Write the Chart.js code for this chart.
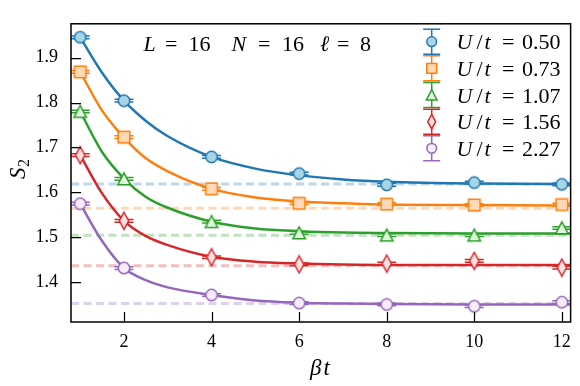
<!DOCTYPE html>
<html>
<head>
<meta charset="utf-8">
<script src="https://cdn.jsdelivr.net/npm/chart.js"></script>
<style>
  html, body { margin: 0; padding: 0; background: #fff; }
</style>
</head>
<body>
<canvas id="myChart" width="580" height="386"></canvas>
<script>
// beta*t values where S2 was measured
const betaT = [1, 2, 4, 6, 8, 10, 12];

// measured S2 for each U/t
const s2U050 = [1.945, 1.804, 1.679, 1.642, 1.617, 1.622, 1.618];
const s2U073 = [1.868, 1.723, 1.608, 1.576, 1.574, 1.572, 1.573];
const s2U107 = [1.780, 1.630, 1.535, 1.510, 1.505, 1.505, 1.521];
const s2U156 = [1.683, 1.537, 1.456, 1.440, 1.442, 1.448, 1.433];
const s2U227 = [1.575, 1.432, 1.372, 1.354, 1.351, 1.347, 1.356];

// error bars (very small)
const errU050 = [0.003, 0.003, 0.003, 0.003, 0.003, 0.003, 0.003];
const errU073 = [0.003, 0.003, 0.003, 0.003, 0.003, 0.003, 0.003];
const errU107 = [0.003, 0.003, 0.003, 0.003, 0.003, 0.003, 0.003];
const errU156 = [0.003, 0.003, 0.003, 0.003, 0.003, 0.003, 0.003];
const errU227 = [0.003, 0.003, 0.003, 0.003, 0.003, 0.003, 0.003];

// fitted curves
const fitBetaT = [1, 1.5, 2, 2.5, 3, 4, 5, 6, 7, 8, 10, 12, 12.2];
const fitU050 = [1.945, 1.866, 1.804, 1.759, 1.725, 1.679, 1.653, 1.638, 1.629, 1.624, 1.620, 1.619, 1.619];
const fitU073 = [1.868, 1.782, 1.722, 1.676, 1.647, 1.608, 1.589, 1.580, 1.576, 1.573, 1.572, 1.571, 1.571];
const fitU107 = [1.780, 1.690, 1.631, 1.590, 1.566, 1.535, 1.520, 1.514, 1.511, 1.510, 1.509, 1.509, 1.509];
const fitU156 = [1.683, 1.598, 1.537, 1.503, 1.483, 1.457, 1.446, 1.442, 1.440, 1.439, 1.439, 1.439, 1.439];
const fitU227 = [1.575, 1.492, 1.432, 1.405, 1.389, 1.372, 1.360, 1.355, 1.353, 1.352, 1.351, 1.351, 1.351];

// large beta reference values (dashed lines)
const refS2 = [1.619, 1.565, 1.505, 1.437, 1.353];

const uValues = ['0.50', '0.73', '1.07', '1.56', '2.27'];
const xTicks = [2, 4, 6, 8, 10, 12];
const yTicks = [1.4, 1.5, 1.6, 1.7, 1.8, 1.9];
const xRange = [0.79, 12.2];
const yRange = [1.312, 1.975];

const s2Data = [s2U050, s2U073, s2U107, s2U156, s2U227];
const errData = [errU050, errU073, errU107, errU156, errU227];
const fitData = [fitU050, fitU073, fitU107, fitU156, fitU227];

// styles
const edgeColors = ['#1f77b4', '#ff7f0e', '#2ca02c', '#d62728', '#9467bd'];
const faceColors = ['#a8d5e5', '#ffd9b8', '#e4f5df', '#fde0e0', '#f8ecf8'];
const dashColors = ['rgba(31,119,180,0.3)', 'rgba(255,127,14,0.3)', 'rgba(44,160,44,0.3)',
                    'rgba(214,39,40,0.3)', 'rgba(148,103,189,0.3)'];
const shapes = ['circle', 'square', 'triangle', 'thindiamond', 'circle'];
const SERIF = '"Liberation Serif", "DejaVu Serif", serif';

function markerPath(ctx, shape, cx, cy, s) {
    ctx.beginPath();
    if (shape === 'circle') {
        ctx.arc(cx, cy, 5.7 * s, 0, Math.PI * 2);
    } else if (shape === 'square') {
        ctx.rect(cx - 5.8 * s, cy - 5.8 * s, 11.6 * s, 11.6 * s);
    } else if (shape === 'triangle') {
        ctx.moveTo(cx, cy - 6.2 * s);
        ctx.lineTo(cx + 6.3 * s, cy + 5.8 * s);
        ctx.lineTo(cx - 6.3 * s, cy + 5.8 * s);
        ctx.closePath();
    } else {
        ctx.moveTo(cx, cy - 8.5 * s);
        ctx.lineTo(cx + 4.7 * s, cy);
        ctx.lineTo(cx, cy + 8.5 * s);
        ctx.lineTo(cx - 4.7 * s, cy);
        ctx.closePath();
    }
}

function makeMarker(shape, edge, face) {
    const c = document.createElement('canvas');
    c.width = 16; c.height = shape === 'thindiamond' ? 20 : 16;
    const g = c.getContext('2d');
    markerPath(g, shape, c.width / 2, c.height / 2, 1);
    g.fillStyle = face; g.fill();
    g.lineWidth = 1.5; g.strokeStyle = edge; g.stroke();
    return c;
}

const datasets = [];
// markers first so they end up on top
for (let k = 0; k < 5; k++) {
    datasets.push({
        label: 'U/t = ' + uValues[k],
        data: betaT.map((x, i) => ({ x: x, y: s2Data[k][i] })),
        errors: errData[k],
        showLine: false,
        borderColor: edgeColors[k],
        pointStyle: makeMarker(shapes[k], edgeColors[k], faceColors[k]),
        pointRadius: 7,
        pointHoverRadius: 7,
        order: k
    });
}
for (let k = 0; k < 5; k++) {
    datasets.push({
        label: 'fit ' + uValues[k],
        data: fitBetaT.map((x, i) => ({ x: x, y: fitData[k][i] })),
        showLine: true,
        borderColor: edgeColors[k],
        borderWidth: 2.5,
        pointRadius: 0,
        cubicInterpolationMode: 'monotone',
        clip: 0,
        order: 10 + k
    });
}
for (let k = 0; k < 5; k++) {
    datasets.push({
        label: 'ref ' + uValues[k],
        data: xRange.map(x => ({ x: x, y: refS2[k] })),
        showLine: true,
        borderColor: dashColors[k],
        borderWidth: 3,
        borderDash: [8, 4.5],
        pointRadius: 0,
        clip: 0,
        order: 20 + k
    });
}

// error bar caps, drawn just before each marker set
const errorBars = {
    id: 'errorBars',
    beforeDatasetDraw(chart, args) {
        const ds = chart.data.datasets[args.index];
        if (!ds.errors) return;
        const { ctx, chartArea: a, scales } = chart;
        ctx.save();
        ctx.beginPath();
        ctx.rect(a.left, a.top, a.width, a.height);
        ctx.clip();
        ctx.strokeStyle = ds.borderColor;
        ctx.lineWidth = 1.5;
        ds.data.forEach((p, i) => {
            const x = scales.x.getPixelForValue(p.x);
            const yt = scales.y.getPixelForValue(p.y + ds.errors[i]);
            const yb = scales.y.getPixelForValue(p.y - ds.errors[i]);
            ctx.beginPath();
            ctx.moveTo(x, yt); ctx.lineTo(x, yb);
            ctx.moveTo(x - 9.5, yt); ctx.lineTo(x + 9.5, yt);
            ctx.moveTo(x - 9.5, yb); ctx.lineTo(x + 9.5, yb);
            ctx.stroke();
        });
        ctx.restore();
    }
};

function drawTokens(ctx, tokens, y, size) {
    tokens.forEach(([text, italic, x]) => {
        ctx.font = (italic ? 'italic ' : '') + size + 'px ' + SERIF;
        ctx.fillText(text, x, y);
    });
}

// frame, inward ticks, titles, annotation and legend
const decor = {
    id: 'decor',
    beforeDraw(chart) {
        const ctx = chart.ctx;
        ctx.save();
        ctx.fillStyle = '#fff';
        ctx.fillRect(0, 0, chart.width, chart.height);
        ctx.restore();
    },
    afterDraw(chart) {
        const { ctx, chartArea: a, scales } = chart;
        ctx.save();
        ctx.strokeStyle = '#000';
        ctx.lineWidth = 1.25;
        ctx.beginPath();
        xTicks.forEach(v => {
            const x = Math.round(scales.x.getPixelForValue(v)) + 0.5;
            ctx.moveTo(x, a.bottom); ctx.lineTo(x, a.bottom - 10);
        });
        yTicks.forEach(v => {
            const y = Math.round(scales.y.getPixelForValue(v)) + 0.5;
            ctx.moveTo(a.left, y); ctx.lineTo(a.left + 10, y);
        });
        ctx.stroke();
        ctx.lineWidth = 1.5;
        ctx.strokeRect(a.left, a.top, a.width, a.height);

        ctx.fillStyle = '#000';
        ctx.textBaseline = 'alphabetic';
        ctx.textAlign = 'left';

        // annotation
        drawTokens(ctx, [['L', true, 143.5], ['=', false, 165], ['16', false, 188.5],
                         ['N', true, 231.5], ['=', false, 258], ['16', false, 282],
                         ['\u2113', true, 320], ['=', false, 337], ['8', false, 360]], 50.5, 22);

        // legend
        for (let k = 0; k < 5; k++) {
            const cy = 41.7 + k * 26.65;
            const hx = 431.7;
            ctx.strokeStyle = edgeColors[k];
            ctx.lineWidth = 1.5;
            ctx.beginPath();
            ctx.moveTo(hx, cy - 12.5); ctx.lineTo(hx, cy + 12.5);
            ctx.moveTo(hx - 8.5, cy - 12.5); ctx.lineTo(hx + 8.5, cy - 12.5);
            ctx.moveTo(hx - 8.5, cy + 12.5); ctx.lineTo(hx + 8.5, cy + 12.5);
            ctx.stroke();
            markerPath(ctx, shapes[k], hx, cy, 0.85);
            ctx.fillStyle = faceColors[k]; ctx.fill();
            ctx.stroke();
            ctx.fillStyle = '#000';
            drawTokens(ctx, [['U', true, 456.5], ['/', false, 476.5], ['t', true, 484.5],
                             ['=', false, 502], [uValues[k], false, 522]], cy + 7.5, 22);
        }

        // x title
        drawTokens(ctx, [['\u03b2', true, 310], ['t', true, 323.5]], 375, 23);

        // y title
        ctx.save();
        ctx.translate(25, 170);
        ctx.rotate(-Math.PI / 2);
        ctx.font = 'italic 23px ' + SERIF;
        ctx.fillText('S', -9, 0);
        ctx.font = '16px ' + SERIF;
        ctx.fillText('2', 3, 4);
        ctx.restore();
        ctx.restore();
    }
};

const ctx = document.getElementById('myChart').getContext('2d');
new Chart(ctx, {
    type: 'scatter',
    data: { datasets: datasets },
    options: {
        responsive: false,
        animation: false,
        devicePixelRatio: 1,
        layout: { padding: { top: 20, right: 8, left: 0, bottom: 0 } },
        plugins: { legend: { display: false }, tooltip: { enabled: false } },
        scales: {
            x: {
                type: 'linear',
                min: xRange[0],
                max: xRange[1],
                afterBuildTicks: s => { s.ticks = xTicks.map(v => ({ value: v })); },
                afterFit: s => { s.height = 64; },
                grid: { display: false, drawTicks: false },
                border: { display: false },
                ticks: {
                    autoSkip: false, maxRotation: 0, padding: 9, color: '#000',
                    font: { family: SERIF, size: 18 }
                }
            },
            y: {
                min: yRange[0],
                max: yRange[1],
                afterBuildTicks: s => { s.ticks = yTicks.map(v => ({ value: v })); },
                afterFit: s => { s.width = 71; },
                grid: { display: false, drawTicks: false },
                border: { display: false },
                ticks: {
                    padding: 13, color: '#000',
                    font: { family: SERIF, size: 18 },
                    callback: v => v.toFixed(1)
                }
            }
        }
    },
    plugins: [errorBars, decor]
});
</script>
</body>
</html>
